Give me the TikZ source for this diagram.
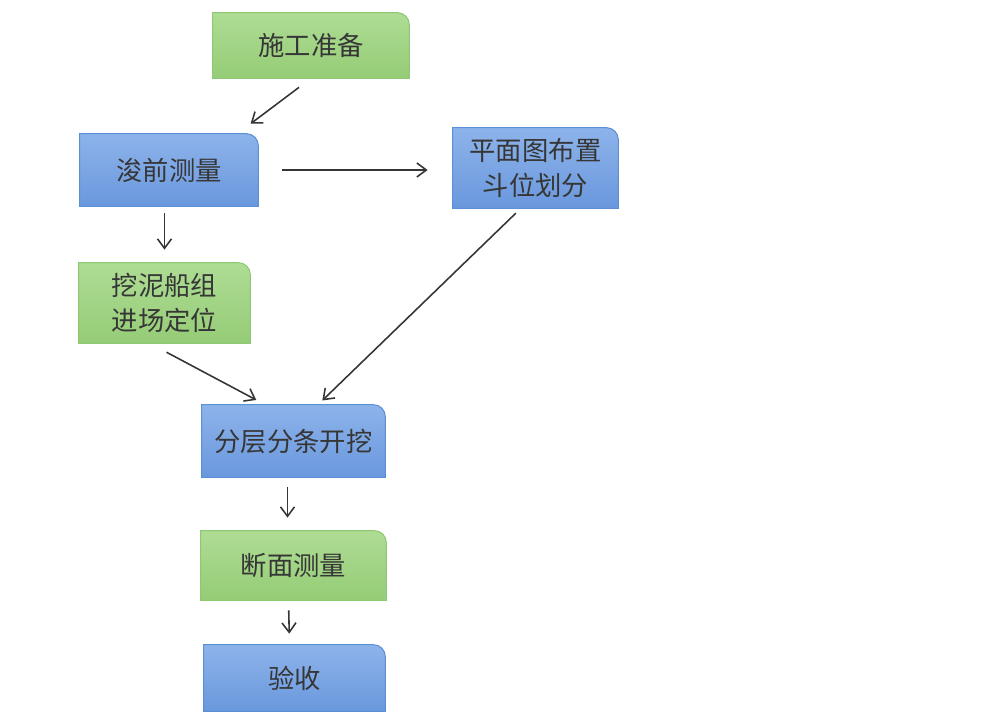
\documentclass[tikz,border=0pt]{standalone}
\usepackage{fontspec}
\newfontfamily\cjk{Noto Sans CJK SC}
\usetikzlibrary{arrows.meta,backgrounds}
\definecolor{greenT}{HTML}{AEDC94}
\definecolor{greenB}{HTML}{95CC76}
\definecolor{greenL}{HTML}{8DC873}
\definecolor{blueT}{HTML}{8DB3EA}
\definecolor{blueB}{HTML}{6A98DD}
\definecolor{blueL}{HTML}{5B8FD6}
\definecolor{ink}{HTML}{363636}
\tikzset{
  steptext/.style={inner sep=0pt,align=center,text=ink,
    font=\cjk\fontsize{15}{20}\selectfont},
  greenbox/.style={top color=greenT,bottom color=greenB,draw=greenL,line width=0.6pt},
  bluebox/.style={top color=blueT,bottom color=blueB,draw=blueL,line width=0.6pt},
  flow/.style={draw=ink,line width=0.9pt,-{Straight Barb[length=1.9mm,width=2.8mm]}}
}
\begin{document}
\begin{tikzpicture}[x=0.02cm,y=-0.02cm]
      \useasboundingbox (0,0) rectangle (1000,719);
      % steps
      \node[steptext,minimum width=3.92cm,minimum height=1.30cm] (zhunbei) at (311,45.5) {施工准备};
      \node[steptext,minimum width=3.56cm,minimum height=1.44cm] (qianliang) at (169,170) {浚前测量};
      \node[steptext,minimum width=3.30cm,minimum height=1.60cm] (buzhi) at (535.5,168) {平面图布置\\斗位划分};
      \node[steptext,minimum width=3.42cm,minimum height=1.60cm] (wajue) at (164.5,303) {挖泥船组\\进场定位};
      \node[steptext,minimum width=3.66cm,minimum height=1.44cm] (kaiwa) at (293.5,441) {分层分条开挖};
      \node[steptext,minimum width=3.70cm,minimum height=1.38cm] (duanmian) at (293.5,565.5) {断面测量};
      \node[steptext,minimum width=3.62cm,minimum height=1.32cm] (yanshou) at (294.5,678) {验收};
      % boxes, only the top right corner is rounded
      \begin{scope}[on background layer]
        \foreach \n/\s in {zhunbei/greenbox,qianliang/bluebox,buzhi/bluebox,wajue/greenbox,
                           kaiwa/bluebox,duanmian/greenbox,yanshou/bluebox}
          \draw[\s] (\n.south west) -- (\n.north west) -- ([xshift=-0.24cm]\n.north east)
            arc[start angle=90,end angle=0,radius=0.24cm] -- (\n.south east) -- cycle;
      \end{scope}
      % arrows
      \draw[flow,shorten <=0.30cm,shorten >=0.33cm] (zhunbei.south) -- (qianliang.28);
      \draw[flow,shorten <=0.48cm,shorten >=0.50cm] (qianliang.east) -- (qianliang.east -| buzhi.west);
      \draw[flow,shorten <=0.14cm,shorten >=0.26cm] (wajue.north |- qianliang.south) -- (wajue.north);
      \draw[flow,shorten <=0.38cm,shorten >=0.20cm] (wajue.-110) -- (kaiwa.128);
      \draw[flow,shorten <=0.14cm,shorten >=0.12cm] (buzhi.-110) -- (kaiwa.56);
      \draw[flow,shorten <=0.20cm,shorten >=0.26cm] ([xshift=-0.12cm]kaiwa.south) -- ([xshift=-0.12cm]duanmian.north);
      \draw[flow,shorten <=0.20cm,shorten >=0.22cm] ([xshift=-0.10cm]duanmian.south) -- ([xshift=-0.10cm]yanshou.north);
    \end{tikzpicture}
\end{document}
